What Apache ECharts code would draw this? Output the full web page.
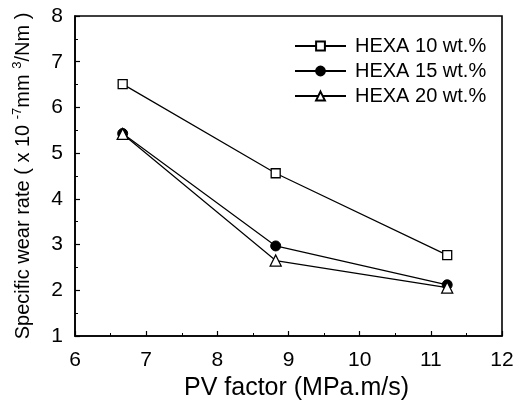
<!DOCTYPE html>
<html>
<head>
<meta charset="utf-8">
<script src="https://cdn.jsdelivr.net/npm/echarts@6/dist/echarts.min.js"></script>
<style>
  html, body { margin: 0; padding: 0; background: #fff; }
  #chart { width: 522px; height: 408px; }
</style>
</head>
<body>
<div id="chart"></div>
<script>
// PV factor (MPa.m/s) for each test
const pvFactor = [6.67, 8.82, 11.23];
// Specific wear rate (x10^-7 mm^3/Nm)
const hexa10 = [6.51, 4.56, 2.77];
const hexa15 = [5.43, 2.97, 2.12];
const hexa20 = [5.42, 2.65, 2.06];
const seriesNames = ['HEXA 10 wt.%', 'HEXA 15 wt.%', 'HEXA 20 wt.%'];

const FONT = '"Liberation Sans", Arial, sans-serif';
const pairs = (ys) => pvFactor.map((x, i) => [x, ys[i]]);

const chart = echarts.init(document.getElementById('chart'), null, { renderer: 'canvas' });

const baseLine = { color: '#000', width: 1.2 };

chart.setOption({
  animation: false,
  backgroundColor: '#fff',
  grid: {
    left: 75, right: 20, top: 16, bottom: 72,
    show: true, borderColor: '#000', borderWidth: 1.6, backgroundColor: 'transparent'
  },
  legend: {
    left: 289, top: 31, orient: 'vertical',
    itemWidth: 51, itemHeight: 11, itemGap: 5,
    textStyle: { fontFamily: FONT, fontSize: 20, color: '#000', padding: [0, 0, 0, 4] },
    data: seriesNames
  },
  xAxis: {
    type: 'value', min: 6, max: 12, interval: 1,
    name: 'PV factor (MPa.m/s)', nameLocation: 'middle', nameGap: 38,
    nameTextStyle: { fontFamily: FONT, fontSize: 25, color: '#000', padding: [0, 0, 0, 16] },
    axisLine: { lineStyle: { color: '#000', width: 1.6 } },
    axisTick: { inside: true, length: 5, lineStyle: { color: '#000', width: 1.2 } },
    minorTick: { show: true, splitNumber: 2, length: 3, lineStyle: { color: '#000', width: 1 } },
    axisLabel: { fontFamily: FONT, fontSize: 21, color: '#000', margin: 14 },
    splitLine: { show: false }
  },
  yAxis: {
    type: 'value', min: 1, max: 8, interval: 1,
    name: '{t|Specific wear rate ( x 10 }{s|-7}{t|mm }{s|3}{t|/Nm )}',
    nameLocation: 'middle', nameGap: 42, nameRotate: 90,
    nameTextStyle: {
      fontFamily: FONT, color: '#000',
      rich: {
        t: { fontFamily: FONT, fontSize: 20, color: '#000', verticalAlign: 'bottom', lineHeight: 22 },
        s: { fontFamily: FONT, fontSize: 13, color: '#000', verticalAlign: 'top', lineHeight: 22, padding: [0, 0, 9, 0] }
      }
    },
    axisLine: { lineStyle: { color: '#000', width: 1.6 } },
    axisTick: { inside: true, length: 5, lineStyle: { color: '#000', width: 1.2 } },
    minorTick: { show: true, splitNumber: 2, length: 3, lineStyle: { color: '#000', width: 1 } },
    axisLabel: { fontFamily: FONT, fontSize: 21, color: '#000', margin: 12 },
    splitLine: { show: false }
  },
  series: [
    {
      name: seriesNames[0], type: 'line', data: pairs(hexa10),
      symbol: 'rect', symbolSize: 9,
      lineStyle: baseLine,
      itemStyle: { color: '#fff', borderColor: '#000', borderWidth: 1.3 }
    },
    {
      name: seriesNames[1], type: 'line', data: pairs(hexa15),
      symbol: 'circle', symbolSize: 10,
      lineStyle: baseLine,
      itemStyle: { color: '#000', borderColor: '#000', borderWidth: 1 }
    },
    {
      name: seriesNames[2], type: 'line', data: pairs(hexa20),
      symbol: 'triangle', symbolSize: 11,
      lineStyle: baseLine,
      itemStyle: { color: '#fff', borderColor: '#000', borderWidth: 1.3 }
    }
  ]
});
</script>
</body>
</html>
